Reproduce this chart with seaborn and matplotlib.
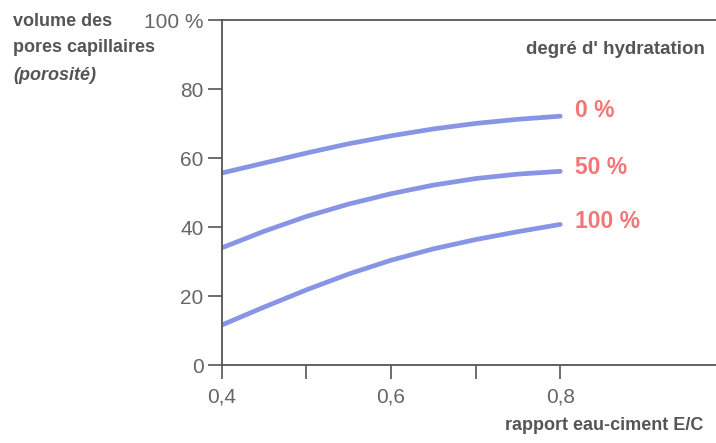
import numpy as np
import pandas as pd
import matplotlib
matplotlib.use("Agg")
import matplotlib.pyplot as plt
import seaborn as sns

# water/cement ratio (E/C)
ratio = [0.40, 0.45, 0.50, 0.55, 0.60, 0.65, 0.70, 0.75, 0.80]

# capillary porosity (%) for each degree of hydration
poro_0 = [55.7, 58.6, 61.5, 64.2, 66.5, 68.5, 70.1, 71.3, 72.2]
poro_50 = [34.0, 38.8, 43.1, 46.7, 49.7, 52.2, 54.1, 55.4, 56.2]
poro_100 = [11.6, 16.8, 21.8, 26.4, 30.4, 33.7, 36.4, 38.7, 40.8]

degrees = ["0 %", "50 %", "100 %"]
x_ticks = [0.4, 0.5, 0.6, 0.7, 0.8]
x_ticklabels = ["0,4", "", "0,6", "", "0,8"]
y_ticks = [0, 20, 40, 60, 80, 100]
y_ticklabels = ["0", "20", "40", "60", "80", "100 %"]


def build_frame():
    frames = []
    for deg, vals in zip(degrees, [poro_0, poro_50, poro_100]):
        frames.append(pd.DataFrame({"E/C": ratio, "porosite": vals, "degre": deg}))
    return pd.concat(frames, ignore_index=True)


df = build_frame()

sns.set_style("ticks")
plt.rcParams["font.family"] = ["Liberation Sans", "DejaVu Sans"]

grey = "#555555"
line_col = "#8795e4"
red = "#f47575"

fig = plt.figure(figsize=(7.16, 4.43), dpi=100)
ax = fig.add_axes([0.3096, 0.176, 0.6904, 0.778])

sns.lineplot(
    data=df, x="E/C", y="porosite", hue="degre",
    palette={d: line_col for d in degrees},
    linewidth=3.4, legend=False, ax=ax,
)

ax.set_xlim(0.4, 0.984)
ax.set_ylim(0, 100)
ax.set_xticks(x_ticks)
ax.set_xticklabels(x_ticklabels)
ax.set_yticks(y_ticks)
ax.set_yticklabels(y_ticklabels)
ax.set_xlabel("")
ax.set_ylabel("")

ax.tick_params(axis="both", colors=grey, labelcolor="#666666", labelsize=15,
               length=10, width=1.2, direction="out")
ax.tick_params(axis="x", pad=6)
ax.tick_params(axis="y", pad=3)

for side in ["left", "bottom", "top"]:
    ax.spines[side].set_color(grey)
    ax.spines[side].set_linewidth(1.3)
ax.spines["right"].set_visible(False)

# curve labels
label_y = [73.9, 57.4, 41.6]
for deg, yv in zip(degrees, label_y):
    ax.text(0.818, yv, deg, color=red, fontsize=16.5, fontweight="bold",
            va="center", ha="left")

# axis titles
fig.text(0.018, 1 - 21 / 443, "volume des", color=grey, fontsize=13,
         fontweight="bold", va="center", ha="left")
fig.text(0.018, 1 - 47 / 443, "pores capillaires", color=grey, fontsize=13,
         fontweight="bold", va="center", ha="left")
fig.text(0.018, 1 - 75 / 443, "(porosité)", color=grey, fontsize=13,
         fontweight="bold", fontstyle="italic", va="center", ha="left")
fig.text(705 / 716, 1 - 50 / 443, "degré d' hydratation", color=grey,
         fontsize=13.5, fontweight="bold", va="center", ha="right")
fig.text(703 / 716, 1 - 425 / 443, "rapport eau-ciment E/C", color=grey,
         fontsize=13, fontweight="bold", va="center", ha="right")

fig.savefig("out.png", dpi=100)
